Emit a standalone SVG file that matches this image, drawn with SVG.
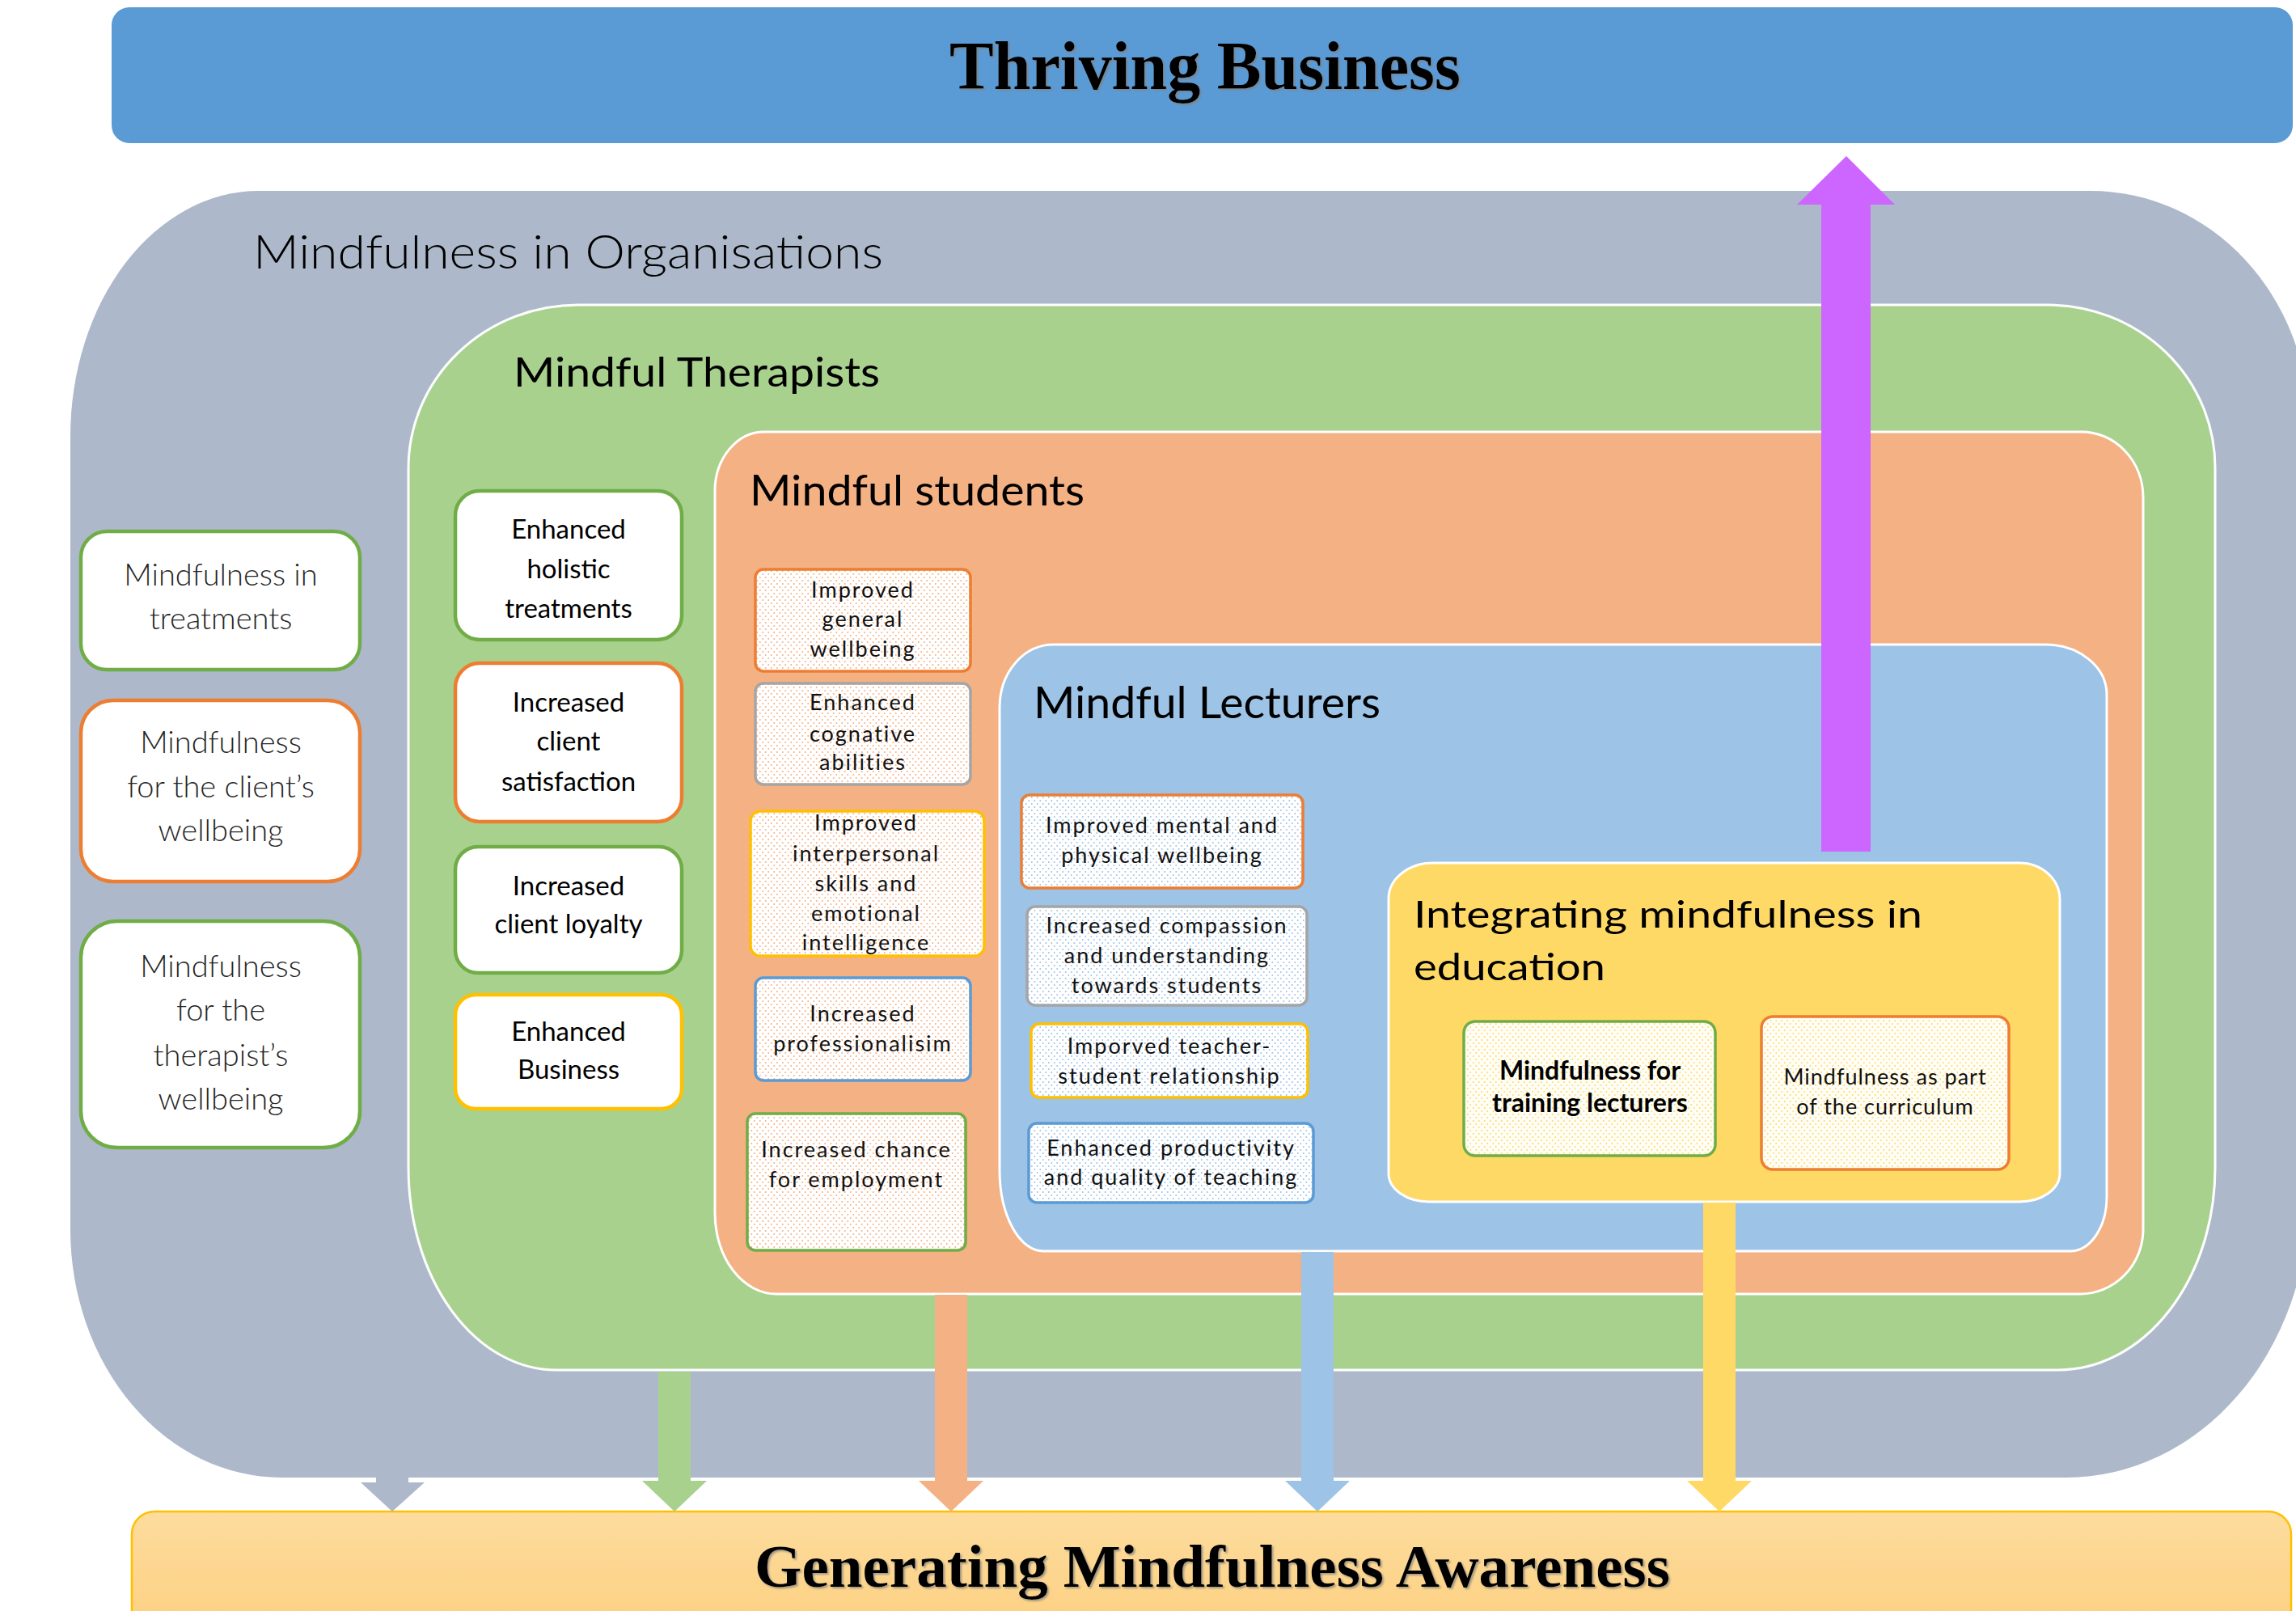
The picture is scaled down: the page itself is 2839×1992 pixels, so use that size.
<svg xmlns="http://www.w3.org/2000/svg" width="2839" height="1992" viewBox="0 0 2839 1992">
<defs>
<style>
.ttl{font-family:"Liberation Serif","Times New Roman",serif;font-weight:bold;fill:#000}
.hd{font-family:Lato,"Liberation Sans",sans-serif;fill:#000}
.lt{font-family:Lato,"Liberation Sans",sans-serif;font-weight:300;font-size:38px;fill:#262626;text-anchor:middle}
.gn{font-family:Lato,"Liberation Sans",sans-serif;font-size:33px;fill:#000;text-anchor:middle}
.dt{font-family:Lato,"Liberation Sans",sans-serif;font-size:27px;letter-spacing:2px;fill:#111;text-anchor:middle}
.yb{font-family:Lato,"Liberation Sans",sans-serif;font-size:32px;font-weight:bold;fill:#000;text-anchor:middle}
.yr{font-family:Lato,"Liberation Sans",sans-serif;font-size:27px;letter-spacing:1px;fill:#111;text-anchor:middle}
.box{fill:#fff;stroke-width:4.5}
.dbox{stroke-width:3.5}
.sg{stroke:#70AD47}.so{stroke:#ED7D31}.sy{stroke:#FFC000}.sa{stroke:#A5A5A5}.sb{stroke:#5B9BD5}
.cont{stroke:#fff;stroke-width:3}
</style>
<pattern id="dotO" width="7" height="8" patternUnits="userSpaceOnUse"><rect width="7" height="8" fill="#fff"/><circle cx="1.75" cy="2" r="1" fill="#F4B183"/><circle cx="5.25" cy="6" r="1" fill="#F4B183"/></pattern>
<pattern id="dotB" width="7" height="8" patternUnits="userSpaceOnUse"><rect width="7" height="8" fill="#fff"/><circle cx="1.75" cy="2" r="1" fill="#9DC3E6"/><circle cx="5.25" cy="6" r="1" fill="#9DC3E6"/></pattern>
<pattern id="dotY" width="7" height="8" patternUnits="userSpaceOnUse"><rect width="7" height="8" fill="#fffef6"/><circle cx="1.75" cy="2" r="1" fill="#FFD966"/><circle cx="5.25" cy="6" r="1" fill="#FFD966"/></pattern>
<linearGradient id="gBot" x1="0" y1="0" x2="0" y2="1"><stop offset="0" stop-color="#FDDC9E"/><stop offset="1" stop-color="#FCCF7E"/></linearGradient>
<filter id="sh" x="-5%" y="-20%" width="110%" height="140%"><feDropShadow dx="2" dy="2" stdDeviation="1" flood-color="#7f7f7f" flood-opacity="0.7"/></filter>
</defs>
<rect width="2839" height="1992" fill="#fff"/>

<g id="thriving-business">
<rect x="138" y="9" width="2697" height="168" rx="22" fill="#5B9BD5"/>
<text class="ttl" x="1490" y="110" font-size="84" text-anchor="middle" textLength="632" lengthAdjust="spacingAndGlyphs" filter="url(#sh)">Thriving Business</text>
</g>

<g id="generating-awareness">
<rect x="163" y="1869" width="2670" height="160" rx="28" fill="url(#gBot)" stroke="#FFC000" stroke-width="2.5"/>
<text class="ttl" x="1499" y="1962" font-size="74" text-anchor="middle" textLength="1132" lengthAdjust="spacingAndGlyphs" filter="url(#sh)">Generating Mindfulness Awareness</text>
</g>

<g id="mindfulness-in-organisations">
<path d="M320 236 H2585 A270 290 0 0 1 2855 526 V1480 A300 347 0 0 1 2555 1827 H348 A261 307 0 0 1 87 1520 V540 A233 304 0 0 1 320 236 Z" fill="#ADB9CA"/>
<text class="hd" x="313" y="332" font-size="58" font-weight="300" textLength="779" lengthAdjust="spacingAndGlyphs">Mindfulness in Organisations</text>
</g>

<g id="mindful-therapists">
<path class="cont" d="M715 377 H2532 A207 201 0 0 1 2739 578 V1444 A194 250 0 0 1 2545 1694 H688 A183 250 0 0 1 505 1444 V579 A210 202 0 0 1 715 377 Z" fill="#A9D18E"/>
<text class="hd" x="635" y="478" font-size="51" textLength="453" lengthAdjust="spacingAndGlyphs">Mindful Therapists</text>
</g>

<g id="mindful-students">
<path class="cont" d="M945 534 H2574 A76 81 0 0 1 2650 615 V1520 A78 80 0 0 1 2572 1600 H960 A76 100 0 0 1 884 1500 V607 A61 73 0 0 1 945 534 Z" fill="#F4B183"/>
<text class="hd" x="927" y="625" font-size="52" textLength="414" lengthAdjust="spacingAndGlyphs">Mindful students</text>
</g>

<g id="mindful-lecturers">
<path class="cont" d="M1302 797 H2529 A76 62 0 0 1 2605 859 V1480 A45 67 0 0 1 2560 1547 H1290 A54 100 0 0 1 1236 1447 V875 A66 78 0 0 1 1302 797 Z" fill="#9DC3E6"/>
<text class="hd" x="1278" y="888" font-size="54" textLength="429" lengthAdjust="spacingAndGlyphs">Mindful Lecturers</text>
</g>

<g id="integrating-mindfulness">
<path class="cont" d="M1772 1067 H2497 A50 45 0 0 1 2547 1112 V1451 A50 35 0 0 1 2497 1486 H1767 A50 35 0 0 1 1717 1451 V1111 A55 44 0 0 1 1772 1067 Z" fill="#FFD966"/>
<text class="hd" x="1748" y="1147" font-size="46" textLength="629" lengthAdjust="spacingAndGlyphs">Integrating mindfulness in</text>
<text class="hd" x="1748" y="1212" font-size="46" textLength="237" lengthAdjust="spacingAndGlyphs">education</text>
</g>

<g id="connectors">
<polygon points="2252,1053 2252,253 2222,253 2283,193 2343,253 2313,253 2313,1053" fill="#CC66FF"/>
<polygon points="465,1820 465,1833 446,1833 485,1869 525,1833 505,1833 505,1820" fill="#ADB9CA"/>
<polygon points="814,1696 814,1831 794,1831 834,1869 874,1831 854,1831 854,1696" fill="#A9D18E"/>
<polygon points="1156,1601 1156,1831 1136,1831 1176,1869 1216,1831 1196,1831 1196,1601" fill="#F4B183"/>
<polygon points="1609,1548 1609,1831 1589,1831 1629,1869 1669,1831 1649,1831 1649,1548" fill="#9DC3E6"/>
<polygon points="2106,1487 2106,1831 2086,1831 2126,1869 2166,1831 2146,1831 2146,1487" fill="#FFD966"/>
</g>

<g id="node-mindfulness-in-treatments">
<rect class="box sg" x="100" y="657" width="345" height="171" rx="32"/>
<text class="lt" x="273" y="724">Mindfulness in</text>
<text class="lt" x="273" y="778">treatments</text>
</g>
<g id="node-client-wellbeing">
<rect class="box so" x="100" y="866" width="345" height="224" rx="40"/>
<text class="lt" x="273" y="931">Mindfulness</text>
<text class="lt" x="273" y="986">for the client’s</text>
<text class="lt" x="273" y="1040">wellbeing</text>
</g>
<g id="node-therapist-wellbeing">
<rect class="box sg" x="100" y="1139" width="345" height="280" rx="45"/>
<text class="lt" x="273" y="1208">Mindfulness</text>
<text class="lt" x="273" y="1262">for the</text>
<text class="lt" x="273" y="1318">therapist’s</text>
<text class="lt" x="273" y="1372">wellbeing</text>
</g>

<g id="node-holistic-treatments">
<rect class="box sg" x="563" y="607" width="280" height="184" rx="30"/>
<text class="gn" x="703" y="666">Enhanced</text>
<text class="gn" x="703" y="715">holistic</text>
<text class="gn" x="703" y="764">treatments</text>
</g>
<g id="node-client-satisfaction">
<rect class="box so" x="563" y="820" width="280" height="196" rx="30"/>
<text class="gn" x="703" y="880">Increased</text>
<text class="gn" x="703" y="928">client</text>
<text class="gn" x="703" y="978">satisfaction</text>
</g>
<g id="node-client-loyalty">
<rect class="box sg" x="563" y="1047" width="280" height="156" rx="28"/>
<text class="gn" x="703" y="1107">Increased</text>
<text class="gn" x="703" y="1154">client loyalty</text>
</g>
<g id="node-enhanced-business">
<rect class="box sy" x="563" y="1230" width="280" height="141" rx="25"/>
<text class="gn" x="703" y="1287">Enhanced</text>
<text class="gn" x="703" y="1334">Business</text>
</g>

<g id="node-general-wellbeing">
<rect class="dbox so" x="934" y="704" width="266" height="126" rx="10" fill="url(#dotO)"/>
<text class="dt" x="1067" y="739">Improved</text>
<text class="dt" x="1067" y="775">general</text>
<text class="dt" x="1067" y="812">wellbeing</text>
</g>
<g id="node-cognative-abilities">
<rect class="dbox sa" x="934" y="845" width="266" height="125" rx="10" fill="url(#dotO)"/>
<text class="dt" x="1067" y="878">Enhanced</text>
<text class="dt" x="1067" y="917">cognative</text>
<text class="dt" x="1067" y="952">abilities</text>
</g>
<g id="node-interpersonal-skills">
<rect class="dbox sy" x="928" y="1003" width="289" height="179" rx="12" fill="url(#dotO)"/>
<text class="dt" x="1071" y="1027">Improved</text>
<text class="dt" x="1071" y="1065">interpersonal</text>
<text class="dt" x="1071" y="1102">skills and</text>
<text class="dt" x="1071" y="1139">emotional</text>
<text class="dt" x="1071" y="1175">intelligence</text>
</g>
<g id="node-professionalisim">
<rect class="dbox sb" x="934" y="1209" width="266" height="127" rx="10" fill="url(#dotO)"/>
<text class="dt" x="1067" y="1263">Increased</text>
<text class="dt" x="1067" y="1300">professionalisim</text>
</g>
<g id="node-employment">
<rect class="dbox sg" x="924" y="1377" width="270" height="169" rx="10" fill="url(#dotO)"/>
<text class="dt" x="1059" y="1431">Increased chance</text>
<text class="dt" x="1059" y="1468">for employment</text>
</g>

<g id="node-mental-physical">
<rect class="dbox so" x="1263" y="983" width="348" height="115" rx="10" fill="url(#dotB)"/>
<text class="dt" x="1437" y="1030">Improved mental and</text>
<text class="dt" x="1437" y="1067">physical wellbeing</text>
</g>
<g id="node-compassion">
<rect class="dbox sa" x="1270" y="1121" width="346" height="122" rx="10" fill="url(#dotB)"/>
<text class="dt" x="1443" y="1154">Increased compassion</text>
<text class="dt" x="1443" y="1191">and understanding</text>
<text class="dt" x="1443" y="1228">towards students</text>
</g>
<g id="node-teacher-student">
<rect class="dbox sy" x="1275" y="1266" width="342" height="91" rx="10" fill="url(#dotB)"/>
<text class="dt" x="1446" y="1303">Imporved teacher-</text>
<text class="dt" x="1446" y="1340">student relationship</text>
</g>
<g id="node-productivity">
<rect class="dbox sb" x="1272" y="1389" width="352" height="98" rx="10" fill="url(#dotB)"/>
<text class="dt" x="1448" y="1429">Enhanced productivity</text>
<text class="dt" x="1448" y="1465">and quality of teaching</text>
</g>

<g id="node-training-lecturers">
<rect class="dbox sg" x="1810" y="1263" width="311" height="166" rx="14" fill="url(#dotY)"/>
<text class="yb" x="1966" y="1335">Mindfulness for</text>
<text class="yb" x="1966" y="1375">training lecturers</text>
</g>
<g id="node-curriculum">
<rect class="dbox so" x="2178" y="1257" width="306" height="189" rx="14" fill="url(#dotY)"/>
<text class="yr" x="2331" y="1341">Mindfulness as part</text>
<text class="yr" x="2331" y="1378">of the curriculum</text>
</g>
</svg>
